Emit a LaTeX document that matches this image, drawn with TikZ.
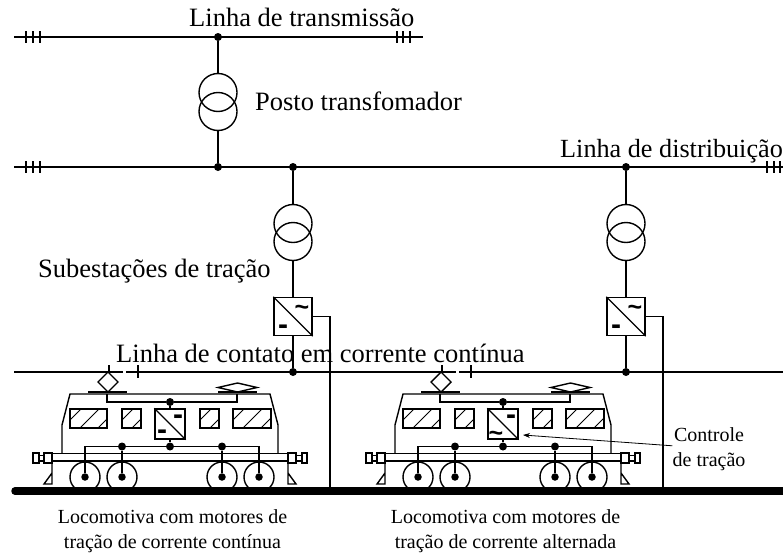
\documentclass[tikz,border=0pt]{standalone}
\usepackage{fontspec}
\usetikzlibrary{arrows.meta}
\setmainfont{Liberation Serif}
\newfontfamily\symfont{Liberation Sans}
\begin{document}
\begin{tikzpicture}[
        x=1pt, y=-1pt,
        ed/.style={line width=1.4pt},
        jn/.style={fill=black, circle, minimum size=8pt, inner sep=0pt},
        tr/.style={draw, ed, circle, minimum size=38pt, inner sep=0pt},
        cv/.style={draw, ed, minimum size=38pt, inner sep=0pt},
        wh/.style={draw, ed, circle, minimum size=30pt, inner sep=0pt},
        hb/.style={fill=black, circle, minimum size=7.5pt, inner sep=0pt},
        mn/.style={inner sep=0pt, font=\symfont\bfseries\fontsize{30}{30}\selectfont},
        tl/.style={inner sep=0pt, font=\symfont\bfseries\fontsize{25}{25}\selectfont},
        big/.style={inner sep=0pt, anchor=base west, font=\fontsize{26.5}{28}\selectfont},
        small/.style={inner sep=0pt, align=center, font=\fontsize{20}{25}\selectfont}
      ]
      \useasboundingbox (0,0) rectangle (783,554);
      % busbars
      \coordinate (tA) at (14,37);
      \coordinate (tB) at (423,37);
      \coordinate (dA) at (14,167);
      \coordinate (dB) at (783,167);
      \draw[ed] (tA) -- (tB);
      \draw[ed] (dA) -- (dB);
      \foreach \x in {26,33,40,397,403,410} {
        \draw[ed] (\x,31) -- (\x,43);
      }
      \foreach \x in {26,33,40,767,774,780} {
        \draw[ed] (\x,161) -- (\x,173);
      }
      % contact line and rail
      \coordinate (cA) at (14,372);
      \coordinate (cB) at (123,372);
      \coordinate (cC) at (126,372);
      \coordinate (cD) at (456,372);
      \coordinate (cE) at (459,372);
      \coordinate (cF) at (783,372);
      \draw[ed] (cA) -- (cB) (cC) -- (cD) (cE) -- (cF);
      \coordinate (rA) at (15,491);
      \coordinate (rB) at (790,491);
      \draw[line width=7.5pt, line cap=round] (rA) -- (rB);
      % transformer station
      \node[jn] (j1) at (218,37) {};
      \node[jn] (j2) at (218,167) {};
      \node[tr] (t1a) at (218,92.5) {};
      \node[tr] (t1b) at (218,111.5) {};
      \draw[ed] (j1) -- (t1a) (t1b) -- (j2);
      % traction substations
      \foreach \x/\n in {293/a,626/b} {
        \node[jn] (s\n) at (\x,167) {};
        \node[tr] (u\n) at (\x,223.5) {};
        \node[tr] (v\n) at (\x,241.5) {};
        \node[cv] (c\n) at (\x,316.5) {};
        \node[jn] (e\n) at (\x,372) {};
        \node[tl] at ([xshift=9pt,yshift=6pt]c\n) {\textasciitilde};
        \node[mn] at ([xshift=-10pt,yshift=-13.5pt]c\n) {-};
        \coordinate (g\n) at (\x+37,491);
        \draw[ed] (c\n.north west) -- (c\n.south east);
        \draw[ed] (s\n) -- (u\n) (v\n) -- (c\n) (c\n) -- (e\n);
        \draw[ed] (c\n.east) -| (g\n);
      }
      % locomotives
      \foreach \lx/\n in {0/a,333/b} {
        \begin{scope}[shift={(\lx,0)}]
          \draw[ed] (62,453) -- (62,425) -- (70,394) -- (270,394) -- (278,425) -- (278,453);
          \foreach \x in {109,138} {
            \draw[ed] (\x,365) -- (\x,378);
          }
          \draw[ed, fill=white] (108,372) -- (118,382) -- (108,392) -- (98,382) -- cycle;
          \draw[line width=2.4pt] (88,392) -- (127,392) (218,392) -- (257,392);
          \draw[ed] (218,387.5) -- (237.5,383) -- (257,387.5) -- (237.5,392) -- cycle;
          % windows
          \foreach \wa/\wb in {70/107,122/141,200/219,233/271} {
            \begin{scope}
              \clip (\wa,409) rectangle (\wb,428);
              \foreach \c in {0,18,...,54} {
                \draw[line width=1pt] (\wa-8+\c,428) -- (\wa+11+\c,409);
              }
            \end{scope}
            \draw[ed] (\wa,409) rectangle (\wb,428);
          }
          % traction converter and its wiring
          \coordinate (pa\n) at (107,394);
          \coordinate (pb\n) at (237,394);
          \node[jn] (ju\n) at (170,402) {};
          \node[cv, minimum size=30pt] (cm\n) at (170,424) {};
          \node[jn] (jd\n) at (170,446.5) {};
          \draw[ed] (pa\n) |- (ju\n) -| (pb\n);
          \draw[ed] (ju\n) -- (cm\n) (cm\n) -- (jd\n);
          \draw[ed] (cm\n.north west) -- (cm\n.south east);
          \node[jn] (jl\n) at (122,446.5) {};
          \node[jn] (jr\n) at (222,446.5) {};
          \foreach \x/\w in {85/1,122/2,222/3,259/4} {
            \node[wh] (w\w\n) at (\x,477) {};
            \node[hb] (h\w\n) at (\x,477) {};
          }
          \draw[ed] (h1\n) |- (jd\n) -| (h4\n);
          \draw[ed] (jl\n) -- (h2\n) (jr\n) -- (h3\n);
          % frame, buffers and guards
          \draw[ed] (52,453.7) -- (288,453.7) (52,461) -- (288,461);
          \draw[ed] (44,453) rectangle (52,463) (39,455.5) rectangle (44,461) (33,453) rectangle (39,463);
          \draw[ed] (288,453) rectangle (296,463) (296,455.5) rectangle (302,461) (302,453) rectangle (307,463);
          \draw[ed] (52,463) -- (52,484) -- (44,484) -- (52,473);
          \draw[ed] (288,463) -- (288,484) -- (296,484) -- (288,473);
        \end{scope}
      }
      \node[mn] at (178,420) {-};
      \node[mn] at (162,435) {-};
      \node[mn] at (511,420) {-};
      \node[tl] at (496,436.5) {\textasciitilde};
      % labels
      \node[big] (lt) at (189,26) {Linha de transmissão};
      \node[big] (lp) at (255,110) {Posto transfomador};
      \node[big, font=\fontsize{26.2}{28}\selectfont] (ld) at (560,157) {Linha de distribuição};
      \node[big] (ls) at (38,277) {Subestações de tração};
      \node[big] (lc) at (116,362) {Linha de contato em corrente contínua};
      \node[small] (la) at (172.5,531) {Locomotiva com motores de\\tração de corrente contínua};
      \node[small] (lb) at (505.5,531) {Locomotiva com motores de\\tração de corrente alternada};
      \node[small] (lr) at (709,449) {Controle\\de tração};
      \coordinate (ar) at (523,435);
      \draw[-{Stealth[length=7pt,width=5pt]}, line width=0.8pt] (lr.175) -- (ar);
    \end{tikzpicture}
\end{document}
